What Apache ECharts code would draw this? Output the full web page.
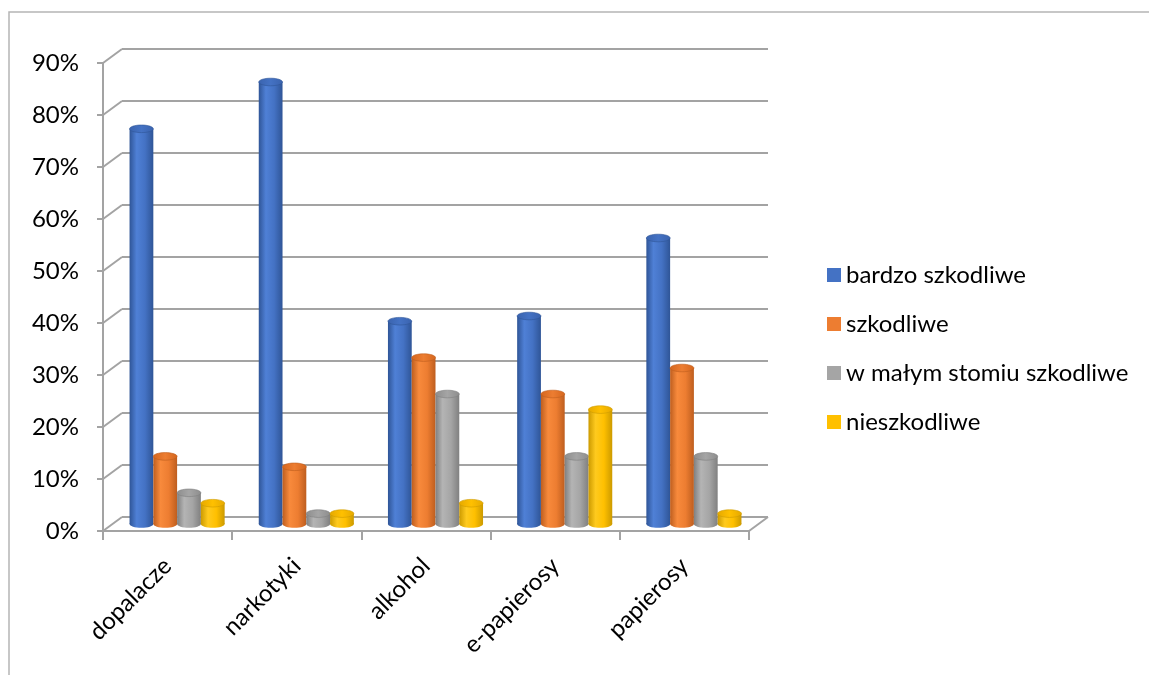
<!DOCTYPE html>
<html>
<head>
<meta charset="utf-8">
<style>
  html, body { margin: 0; padding: 0; background: #ffffff; }
  #chart { width: 1149px; height: 675px; }
</style>
<script src="https://cdn.jsdelivr.net/npm/echarts@6/dist/echarts.min.js"></script>
</head>
<body>
<div id="chart"></div>
<script>
// Categories and survey answers (share of respondents)
const categories = ['dopalacze', 'narkotyki', 'alkohol', 'e-papierosy', 'papierosy'];
const seriesNames = ['bardzo szkodliwe', 'szkodliwe', 'w małym stomiu szkodliwe', 'nieszkodliwe'];
const bardzoSzkodliwe = [0.76, 0.85, 0.39, 0.40, 0.55];
const szkodliwe = [0.13, 0.11, 0.32, 0.25, 0.30];
const wMalymStopniu = [0.06, 0.02, 0.25, 0.13, 0.13];
const nieszkodliwe = [0.04, 0.02, 0.04, 0.22, 0.02];
const yTicks = [0, 0.1, 0.2, 0.3, 0.4, 0.5, 0.6, 0.7, 0.8, 0.9];

// Oblique depth of the plot box: back wall and mid-plane (where bars stand)
const BACK = { dx: 19, dy: -14 };
const MID = { dx: 9.5, dy: -7 };
const WALL_COLOR = '#a3a3a3';
const FONT = 'Lato, "Open Sans", sans-serif';

const palettes = [
  { base: '#4472C4', dark: '#2F5597', light: '#4F80D6', top: '#3A63AE' },
  { base: '#ED7D31', dark: '#BE5E1F', light: '#F88A3C', top: '#D4661E' },
  { base: '#A5A5A5', dark: '#808080', light: '#B4B4B4', top: '#8D8D8D' },
  { base: '#FFC000', dark: '#CC9A00', light: '#FFCA1E', top: '#E5A900' }
];
const seriesValues = [bardzoSzkodliwe, szkodliwe, wMalymStopniu, nieszkodliwe];

function bodyGradient(p) {
  return new echarts.graphic.LinearGradient(0, 0, 1, 0, [
    { offset: 0, color: p.dark },
    { offset: 0.3, color: p.light },
    { offset: 0.65, color: p.base },
    { offset: 1, color: p.dark }
  ]);
}
function topGradient(p) {
  return new echarts.graphic.LinearGradient(0, 0, 1, 0, [
    { offset: 0, color: p.top },
    { offset: 0.5, color: p.base },
    { offset: 1, color: p.top }
  ]);
}

// Back wall gridlines, left wall diagonals and the floor's right edge
function renderWalls(params, api) {
  const cs = params.coordSys;
  const v = api.value(1);
  const y = api.coord([0, v])[1];
  const xl = cs.x, xr = cs.x + cs.width;
  const style = { stroke: WALL_COLOR, lineWidth: 2 };
  const children = [
    { type: 'line', shape: { x1: xl + BACK.dx, y1: y + BACK.dy, x2: xr + BACK.dx, y2: y + BACK.dy }, style },
    { type: 'line', shape: { x1: xl, y1: y, x2: xl + BACK.dx, y2: y + BACK.dy }, style }
  ];
  if (v === 0) {
    children.push({ type: 'line', shape: { x1: xr, y1: y, x2: xr + BACK.dx, y2: y + BACK.dy }, style });
  }
  return { type: 'group', children };
}

function makeCylinderRenderer(si) {
  const p = palettes[si];
  return function (params, api) {
    const idx = api.value(0);
    const val = api.value(1);
    const catW = api.size([1, 0])[0];
    const bw = catW * 0.184;
    const base = api.coord([idx, 0]);
    const top = api.coord([idx, val]);
    const cx = base[0] + (si - 1.5) * bw + MID.dx;
    const yb = base[1] + MID.dy;
    const yt = top[1] + MID.dy;
    const rx = bw / 2, ry = 3.8;
    return {
      type: 'group',
      children: [
        { type: 'ellipse', shape: { cx, cy: yb, rx, ry }, style: { fill: bodyGradient(p) } },
        { type: 'rect', shape: { x: cx - rx, y: yt, width: bw, height: yb - yt }, style: { fill: bodyGradient(p) } },
        { type: 'ellipse', shape: { cx, cy: yt, rx, ry }, style: { fill: topGradient(p), stroke: p.dark, lineWidth: 0.6 } }
      ]
    };
  };
}

const chart = echarts.init(document.getElementById('chart'), null, { renderer: 'canvas' });

const series = [{
  name: 'walls',
  type: 'custom',
  z: 1,
  silent: true,
  renderItem: renderWalls,
  data: yTicks.map(v => [0, v])
}];
seriesValues.forEach((vals, si) => {
  series.push({
    name: seriesNames[si],
    type: 'custom',
    z: 3,
    itemStyle: { color: palettes[si].base },
    renderItem: makeCylinderRenderer(si),
    data: vals.map((v, i) => [i, v])
  });
});

chart.setOption({
  animation: false,
  backgroundColor: '#ffffff',
  graphic: [{
    type: 'rect',
    shape: { x: 9, y: 12, width: 1200, height: 700 },
    style: { fill: 'none', stroke: '#b5b5b5', lineWidth: 1.5 },
    z: 0, silent: true
  }],
  legend: {
    orient: 'vertical',
    left: 822,
    top: 258,
    itemWidth: 14,
    itemHeight: 14,
    itemGap: 25,
    icon: 'rect',
    data: seriesNames,
    textStyle: { fontFamily: FONT, fontSize: 24, color: '#000', lineHeight: 24 }
  },
  grid: { left: 103, right: 400, top: 63, bottom: 144, containLabel: false },
  xAxis: {
    type: 'category',
    data: categories,
    boundaryGap: true,
    axisLine: { show: true, lineStyle: { color: WALL_COLOR, width: 2 } },
    axisTick: { show: true, length: 9, interval: 0, lineStyle: { color: WALL_COLOR, width: 2 } },
    axisLabel: { rotate: 45, margin: 31, fontFamily: FONT, fontSize: 24, color: '#000', interval: 0 },
    splitLine: { show: false }
  },
  yAxis: {
    type: 'value',
    min: 0,
    max: 0.9,
    interval: 0.1,
    axisLine: { show: true, lineStyle: { color: WALL_COLOR, width: 2 } },
    axisTick: { show: true, length: 6, lineStyle: { color: WALL_COLOR, width: 2 } },
    axisLabel: {
      margin: 24,
      fontFamily: FONT,
      fontSize: 24,
      color: '#000',
      padding: [6, 0, 0, 0],
      formatter: v => Math.round(v * 100) + '%'
    },
    splitLine: { show: false }
  },
  series
});
</script>
</body>
</html>
